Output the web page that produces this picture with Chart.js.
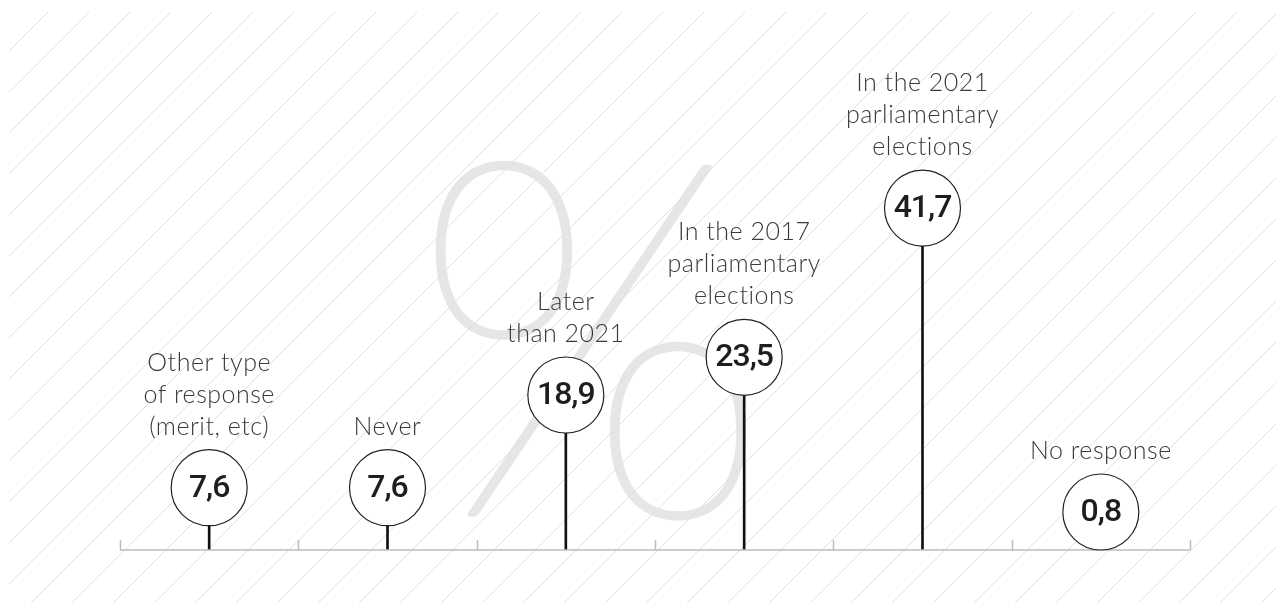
<!DOCTYPE html>
<html>
<head>
<meta charset="utf-8">
<title>When to vote</title>
<script src="https://cdn.jsdelivr.net/npm/chart.js@4/dist/chart.umd.min.js"></script>
<style>
    html, body { margin: 0; padding: 0; background: #fff; }
    #wrap { width: 1276px; height: 603px; }
</style>
</head>
<body>
<div id="wrap"><canvas id="chart" width="1276" height="603"></canvas></div>
<script>
// Data
const categories = [
    ['Other type', 'of response', '(merit, etc)'],
    ['Never'],
    ['Later', 'than 2021'],
    ['In the 2017', 'parliamentary', 'elections'],
    ['In the 2021', 'parliamentary', 'elections'],
    ['No response']
];
const values = [7.6, 7.6, 18.9, 23.5, 41.7, 0.8];
const watermark = '%';

const CIRCLE_R = 38;
const LABEL_FONT = '300 25px Lato, "Open Sans", sans-serif';
const VALUE_FONT = '500 32px Roboto, Inter, sans-serif';

/**
 * Background: big percent sign and the diagonal hatching.
 */
const backdropPlugin = {
    id: 'backdrop',
    beforeDraw(chart) {
        const ctx = chart.ctx;
        const w = chart.width, h = chart.height;
        ctx.save();
        ctx.fillStyle = '#fff';
        ctx.fillRect(0, 0, w, h);

        // Percent watermark, stretched to fit its box
        ctx.font = '200 500px Lato, "DejaVu Sans", sans-serif';
        const m = ctx.measureText(watermark);
        const gw = m.actualBoundingBoxLeft + m.actualBoundingBoxRight;
        const gh = m.actualBoundingBoxAscent + m.actualBoundingBoxDescent;
        const box = { x: 434, y: 158, w: 316, h: 364 };
        ctx.translate(box.x, box.y);
        ctx.scale(box.w / gw, box.h / gh);
        ctx.fillStyle = '#e6e6e6';
        ctx.strokeStyle = '#e6e6e6';
        ctx.lineWidth = 5;
        ctx.lineJoin = 'round';
        ctx.textBaseline = 'alphabetic';
        ctx.fillText(watermark, m.actualBoundingBoxLeft, m.actualBoundingBoxAscent);
        ctx.strokeText(watermark, m.actualBoundingBoxLeft, m.actualBoundingBoxAscent);
        ctx.restore();

        // Hatching, "/" lines 41px apart
        ctx.save();
        ctx.beginPath();
        ctx.rect(9, 12, w - 9, h - 12);
        ctx.clip();
        ctx.strokeStyle = '#e0e0e0';
        ctx.lineWidth = 1;
        ctx.beginPath();
        for (let c = 60 - 41 * 20; c < w + h + 41; c += 41) {
            ctx.moveTo(c, 0);
            ctx.lineTo(c - h, h);
        }
        ctx.stroke();
        ctx.restore();
    }
};

/**
 * Baseline with category ticks, value bubbles and the labels above them.
 */
const lollipopPlugin = {
    id: 'lollipop',
    afterDatasetsDraw(chart) {
        const ctx = chart.ctx;
        const area = chart.chartArea;
        const yScale = chart.scales.y;
        const n = categories.length;
        const step = (area.right - area.left) / n;

        ctx.save();
        // baseline + boundary ticks
        ctx.strokeStyle = '#bdbdbd';
        ctx.lineWidth = 1.5;
        ctx.beginPath();
        ctx.moveTo(area.left, area.bottom);
        ctx.lineTo(area.right, area.bottom);
        for (let i = 0; i <= n; i++) {
            const x = Math.round(area.left + i * step) + 0.5;
            ctx.moveTo(x, area.bottom);
            ctx.lineTo(x, area.bottom - 10);
        }
        ctx.stroke();

        const meta = chart.getDatasetMeta(0);
        meta.data.forEach((bar, i) => {
            const x = bar.x;
            // keep small values' bubble resting on the baseline
            const y = Math.min(yScale.getPixelForValue(values[i]), area.bottom - CIRCLE_R);

            ctx.beginPath();
            ctx.arc(x, y, CIRCLE_R, 0, Math.PI * 2);
            ctx.fillStyle = '#fff';
            ctx.fill();
            ctx.strokeStyle = '#222';
            ctx.lineWidth = 1.2;
            ctx.stroke();

            ctx.fillStyle = '#1e1e1e';
            ctx.font = VALUE_FONT;
            ctx.letterSpacing = '-1px';
            ctx.textAlign = 'center';
            ctx.textBaseline = 'middle';
            ctx.fillText(values[i].toFixed(1).replace('.', ','), x, y + 1);

            ctx.fillStyle = '#3a3a3a';
            ctx.font = LABEL_FONT;
            ctx.letterSpacing = '0.5px';
            ctx.textBaseline = 'alphabetic';
            const lines = categories[i];
            let ly = y - CIRCLE_R - 15;
            for (let k = lines.length - 1; k >= 0; k--) {
                ctx.fillText(lines[k], x, ly);
                ly -= 32;
            }
        });
        ctx.restore();
    }
};

new Chart(document.getElementById('chart'), {
    type: 'bar',
    data: {
        labels: categories,
        datasets: [{
            data: values,
            backgroundColor: '#111',
            barThickness: 2
        }]
    },
    options: {
        responsive: false,
        animation: false,
        layout: { padding: { left: 120, right: 86, top: 58, bottom: 53 } },
        plugins: { legend: { display: false }, tooltip: { enabled: false } },
        scales: {
            x: { display: false, offset: true },
            y: { display: false, min: 0, max: 60 }
        }
    },
    plugins: [backdropPlugin, lollipopPlugin]
});
</script>
</body>
</html>
